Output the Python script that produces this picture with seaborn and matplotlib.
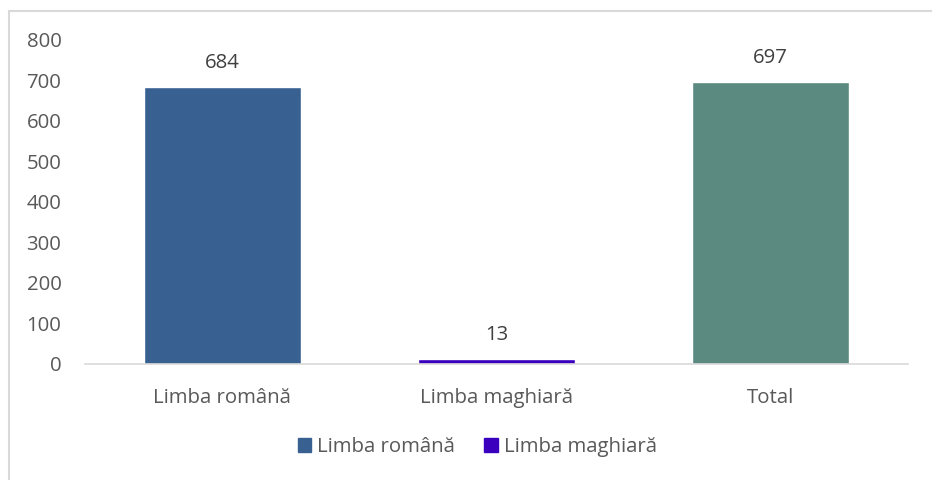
import matplotlib
matplotlib.use("Agg")
import matplotlib.pyplot as plt
import matplotlib.patches as mpatches
import seaborn as sns
import pandas as pd

categories = ['Limba română', 'Limba maghiară', 'Total']
values = [684, 13, 697]
colors = ['#386192', '#3A00BE', '#5B8A80']
legend_labels = ['Limba română', 'Limba maghiară']
yticks = [0, 100, 200, 300, 400, 500, 600, 700, 800]

sns.set_style('white')
plt.rcParams['font.family'] = ['Open Sans', 'DejaVu Sans']
text_color = '#595959'
fs = 14.7

df = pd.DataFrame({'cat': categories, 'val': values})

fig = plt.figure(figsize=(9.32, 4.8), dpi=100)
ax = fig.add_axes([0.0912, 0.2417, 0.883, 0.675])
sns.barplot(data=df, x='cat', y='val', hue='cat', palette=colors,
            width=0.573, legend=False, ax=ax, saturation=1)

for c in ax.containers:
    ax.bar_label(c, padding=10, fontsize=fs, color='#404040')

ax.set_ylim(0, 800)
ax.set_yticks(yticks)
ax.set_xlim(-0.5, 2.5)
ax.set_xlabel('')
ax.set_ylabel('')
ax.tick_params(axis='both', labelsize=fs, colors=text_color, length=0)
ax.tick_params(axis='x', pad=17)
ax.tick_params(axis='y', pad=17)
for s in ['top', 'right', 'left']:
    ax.spines[s].set_visible(False)
ax.spines['bottom'].set_color('#D9D9D9')
ax.spines['bottom'].set_linewidth(1.2)

handles = [mpatches.Patch(color=colors[i], label=legend_labels[i]) for i in range(2)]
fig.legend(handles=handles, loc='center', bbox_to_anchor=(0.512, 0.068), ncol=2,
           frameon=False, fontsize=fs, labelcolor=text_color, handlelength=0.65,
           handleheight=0.65, handletextpad=0.3, columnspacing=1.45)

# chart border (left and top visible)
fig.add_artist(plt.Line2D([0.0095, 0.0095], [0, 0.977], color='#D9D9D9', lw=1.5))
fig.add_artist(plt.Line2D([0.0095, 1], [0.977, 0.977], color='#D9D9D9', lw=1.5))

fig.savefig('out.png', dpi=100)
